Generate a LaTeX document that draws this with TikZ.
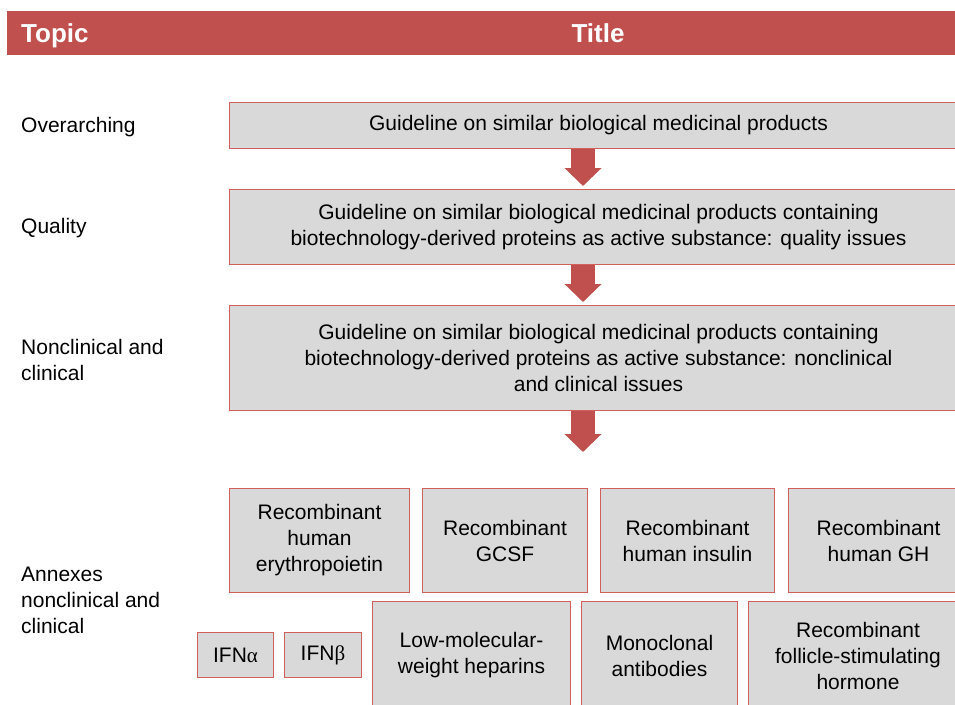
\documentclass[tikz,border=0pt]{standalone}
\usepackage{fontspec}
\setmainfont{Liberation Sans}
\newfontfamily\greekfont{Liberation Serif}
\usetikzlibrary{arrows.meta}

\definecolor{headred}{HTML}{C0504D}
\definecolor{boxred}{HTML}{D0605C}
\definecolor{boxgray}{HTML}{D9D9D9}

\newcommand{\boxfont}{\fontsize{21}{26}\selectfont}
\newcommand{\headfont}{\fontsize{26}{30}\selectfont\bfseries}

\tikzset{
  box/.style={draw=boxred, fill=boxgray, line width=1pt, inner sep=0pt,
    anchor=north west, align=center, font=\boxfont},
  topic/.style={anchor=west, align=left, inner sep=0pt, font=\boxfont},
  head/.style={inner sep=0pt, text=white, font=\headfont},
  downarrow/.style={draw=headred, line width=24pt,
    -{Triangle[length=18pt,width=36pt]}}
}

\begin{document}
\begin{tikzpicture}[x=1pt,y=-1pt]

 % page
 \useasboundingbox (0,0) rectangle (955,704);
 \clip (0,0) rectangle (955,704);

 % header
 \fill[headred] (7,11) rectangle (955,55);
 \node[head, anchor=base west] (topichead) at (21,42) {Topic};
 \node[head, anchor=base] (titlehead) at (598,42) {Title};

 % topics
 \node[topic] (over) at (21,127) {Overarching};
 \node[topic] (qual) at (21,228) {Quality};
 \node[topic] (nonclin) at (21,360) {Nonclinical and\\clinical};
 \node[topic] (annex) at (21,600) {Annexes\\nonclinical and\\clinical};

 % guidelines
 \node[box, minimum width=738, minimum height=46] (overbox) at (229,102)
   {Guideline on similar biological medicinal products};
 \node[box, minimum width=738, minimum height=75] (qualbox) at (229,189)
   {Guideline on similar biological medicinal products containing\\
    biotechnology-derived proteins as active substance: quality issues};
 \node[box, minimum width=738, minimum height=105] (nonclinbox) at (229,305)
   {Guideline on similar biological medicinal products containing\\
    biotechnology-derived proteins as active substance: nonclinical\\
    and clinical issues};

 % annexes, first row
 \node[box, minimum width=180, minimum height=104] (epo) at (229,488)
   {Recombinant\\human\\erythropoietin};
 \node[box, minimum width=165, minimum height=104] (gcsf) at (422,488)
   {Recombinant\\GCSF};
 \node[box, minimum width=174, minimum height=104] (insulin) at (600,488)
   {Recombinant\\human insulin};
 \node[box, minimum width=180, minimum height=104] (gh) at (788,488)
   {Recombinant\\human GH};

 % annexes, second row
 \node[box, minimum width=76, minimum height=45] (ifna) at (197,632)
   {IFN{\greekfont α}};
 \node[box, minimum width=77, minimum height=45] (ifnb) at (284,632)
   {IFN{\greekfont β}};
 \node[box, minimum width=198, minimum height=108] (lmwh) at (372,601)
   {Low-molecular-\\weight heparins};
 \node[box, minimum width=156, minimum height=108] (mab) at (581,601)
   {Monoclonal\\antibodies};
 \node[box, minimum width=219, minimum height=108] (fsh) at (748,601)
   {Recombinant\\follicle-stimulating\\hormone};

 % arrows
 \coordinate (ax) at (583,0);
 \coordinate (annextop) at (583,452);
 \draw[downarrow, shorten >=3pt] (overbox.south -| ax) -- (qualbox.north -| ax);
 \draw[downarrow, shorten >=3pt] (qualbox.south -| ax) -- (nonclinbox.north -| ax);
 \draw[downarrow] (nonclinbox.south -| ax) -- (annextop);

\end{tikzpicture}
\end{document}
